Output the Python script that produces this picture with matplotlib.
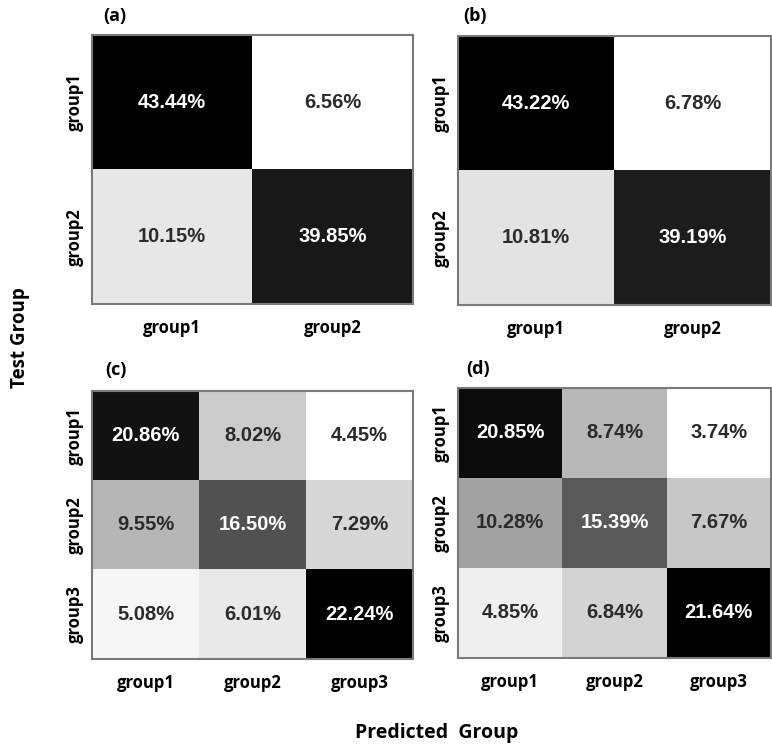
import numpy as np
import matplotlib.pyplot as plt

# confusion matrices (percent of test samples)
labels_2 = ["group1", "group2"]
labels_3 = ["group1", "group2", "group3"]

cm_a = np.array([[43.44, 6.56],
                 [10.15, 39.85]])
cm_b = np.array([[43.22, 6.78],
                 [10.81, 39.19]])
cm_c = np.array([[20.86, 8.02, 4.45],
                 [9.55, 16.50, 7.29],
                 [5.08, 6.01, 22.24]])
cm_d = np.array([[20.85, 8.74, 3.74],
                 [10.28, 15.39, 7.67],
                 [4.85, 6.84, 21.64]])

W, H = 772, 748
fig = plt.figure(figsize=(W / 100, H / 100), dpi=100)

tick_font = dict(family=["Open Sans", "DejaVu Sans"], fontweight="bold", fontsize=12)


def px_axes(x0, y0, x1, y1):
    return fig.add_axes([x0 / W, 1 - y1 / H, (x1 - x0) / W, (y1 - y0) / H])


def draw_cm(ax, cm, labels, tag, tag_xy):
    ax.imshow(cm, cmap="gray_r", vmin=cm.min(), vmax=cm.max(), aspect="auto",
              interpolation="nearest")
    norm = (cm - cm.min()) / (cm.max() - cm.min())
    for i in range(cm.shape[0]):
        for j in range(cm.shape[1]):
            col = "white" if norm[i, j] > 0.55 else "#2b2b2b"
            ax.text(j, i, f"{cm[i, j]:.2f}%", ha="center", va="center",
                    color=col, fontsize=14.5, fontweight="bold",
                    family=["Liberation Sans", "DejaVu Sans"])
    n = len(labels)
    ax.set_xticks(range(n))
    ax.set_yticks(range(n))
    ax.set_xticklabels(labels, **tick_font)
    ax.set_yticklabels(labels, rotation=90, va="center", **tick_font)
    ax.tick_params(length=0)
    ax.tick_params(axis="x", pad=11)
    ax.tick_params(axis="y", pad=6)
    for s in ax.spines.values():
        s.set_color("#7a7a7a")
        s.set_linewidth(1.5)
    fig.text(tag_xy[0] / W, 1 - tag_xy[1] / H, tag, fontsize=13, fontweight="bold",
             family=["Open Sans", "DejaVu Sans"], va="center")


ax_a = px_axes(92, 35, 413, 304)
ax_b = px_axes(458, 36, 771, 305)
ax_c = px_axes(92, 391, 413, 659)
ax_d = px_axes(458, 388, 771, 658)

draw_cm(ax_a, cm_a, labels_2, "(a)", (103, 16))
draw_cm(ax_b, cm_b, labels_2, "(b)", (463, 16))
draw_cm(ax_c, cm_c, labels_3, "(c)", (105, 370))
draw_cm(ax_d, cm_d, labels_3, "(d)", (466, 369))

fig.text(20 / W, 1 - 338 / H, "Test Group", rotation=90, ha="center", va="center",
         fontsize=13.5, fontweight="bold", family=["Open Sans", "DejaVu Sans"])
fig.text(437 / W, 1 - 733 / H, "Predicted  Group", ha="center", va="center",
         fontsize=14, fontweight="bold", family=["Open Sans", "DejaVu Sans"])

fig.savefig("out.png", dpi=100, facecolor="white")
